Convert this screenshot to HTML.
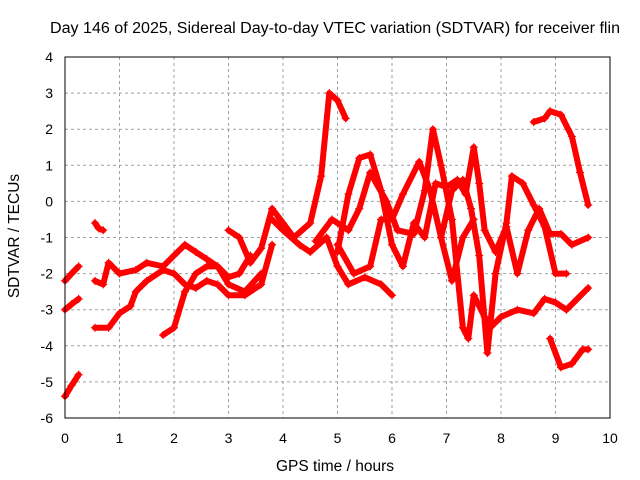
<!DOCTYPE html>
<html><head><meta charset="utf-8"><style>
body{margin:0;background:#fff}
svg{display:block;font-family:"Liberation Sans",sans-serif}
</style></head><body>
<svg id="c" width="640" height="480" xmlns="http://www.w3.org/2000/svg">
<text x="335" y="33" font-size="15.5" text-anchor="middle" textLength="570" lengthAdjust="spacingAndGlyphs">Day 146 of 2025, Sidereal Day-to-day VTEC variation (SDTVAR) for receiver flin</text>
<text x="335" y="471" font-size="15.5" text-anchor="middle">GPS time / hours</text>
<text transform="translate(19,236) rotate(-90)" font-size="15.5" text-anchor="middle">SDTVAR / TECUs</text>
<g id="grid"></g><g id="data"></g>
<rect x="65" y="57" width="545" height="361" fill="none" stroke="#000"/>
</svg>
<script>
const xTicks=[0,1,2,3,4,5,6,7,8,9,10];
const yTicks=[4,3,2,1,0,-1,-2,-3,-4,-5,-6];
const seriesA=[[0,-5.4],[0.12,-5.1],[0.25,-4.8]];
const seriesB=[[0,-3],[0.12,-2.85],[0.25,-2.7]];
const seriesC=[[0,-2.2],[0.12,-2.0],[0.25,-1.8]];
const seriesD=[[0.55,-0.6],[0.62,-0.75],[0.7,-0.8]];
const seriesE=[[0.55,-3.5],[0.8,-3.5],[1.0,-3.1],[1.2,-2.9],[1.3,-2.5],[1.5,-2.2],[1.8,-1.9],[2.0,-2.0],[2.2,-2.3],[2.4,-2.4],[2.6,-2.2],[2.8,-2.3],[3.0,-2.6],[3.3,-2.6],[3.6,-2.3],[3.8,-1.2]];
const seriesF=[[0.55,-2.2],[0.7,-2.3],[0.8,-1.7],[1.0,-2.0],[1.3,-1.9],[1.5,-1.7],[1.8,-1.8],[2.0,-1.5],[2.2,-1.2],[2.4,-1.4],[2.6,-1.6],[2.8,-1.8],[3.0,-2.1],[3.2,-2.0],[3.4,-1.5]];
const seriesG=[[1.8,-3.7],[2.0,-3.5],[2.2,-2.5],[2.4,-2.0],[2.6,-1.8],[2.8,-1.8],[3.0,-2.3],[3.3,-2.5],[3.6,-2.0]];
const seriesH=[[3.0,-0.8],[3.2,-1.0],[3.4,-1.7],[3.6,-1.3],[3.8,-0.2],[4.0,-0.6],[4.2,-1.0],[4.5,-0.6],[4.7,0.7],[4.85,3.0],[5.0,2.8],[5.15,2.3]];
const seriesI=[[3.8,-0.5],[4.0,-0.8],[4.3,-1.2],[4.5,-1.4],[4.8,-1.0],[5.0,-1.8],[5.2,-2.3],[5.5,-2.1],[5.8,-2.3],[6.0,-2.6]];
const seriesJ=[[4.6,-1.1],[4.9,-0.5],[5.2,-0.8],[5.4,-0.2],[5.6,0.8],[5.9,0.0],[6.1,-0.8],[6.4,-0.9],[6.6,0.3],[6.75,2.0],[6.9,1.0],[7.1,-0.5],[7.3,-3.5],[7.4,-3.8],[7.5,-2.6],[7.7,-3.2],[7.8,-3.5],[8.0,-3.2],[8.3,-3.0],[8.6,-3.1],[8.8,-2.7],[9.0,-2.8],[9.2,-3.0],[9.4,-2.7],[9.6,-2.4]];
const seriesK=[[5.0,-1.4],[5.2,0.2],[5.4,1.2],[5.6,1.3],[5.8,0.3],[6.0,-1.2],[6.2,-1.8],[6.4,-0.6],[6.6,-1.0],[6.8,0.5],[7.0,0.4],[7.2,0.6],[7.35,0.2],[7.5,1.5],[7.6,0.5],[7.7,-0.8],[7.9,-1.4],[8.1,-0.7],[8.3,-2.0],[8.5,-0.8],[8.7,-0.2],[8.9,-0.9],[9.1,-0.9],[9.3,-1.2],[9.6,-1.0]];
const seriesL=[[5.0,-1.2],[5.3,-2.0],[5.6,-1.8],[5.8,-0.5],[6.0,-0.5],[6.2,0.2],[6.5,1.1],[6.7,0.3],[6.9,-1.0],[7.1,0.3],[7.3,0.6],[7.45,-0.2],[7.6,-1.5],[7.75,-4.2],[7.9,-2.0],[8.1,-0.6],[8.2,0.7],[8.4,0.5],[8.6,-0.1],[8.8,-0.7],[9.0,-2.0],[9.2,-2.0]];
const seriesM=[[8.6,2.2],[8.8,2.3],[8.9,2.5],[9.1,2.4],[9.3,1.8],[9.45,0.8],[9.6,-0.1]];
const seriesN=[[8.9,-3.8],[9.1,-4.6],[9.3,-4.5],[9.5,-4.1],[9.6,-4.1]];
const seriesO=[[6.9,-1.0],[7.1,-2.2],[7.3,-1.0],[7.5,-0.5]];
const allSeries=[seriesA,seriesB,seriesC,seriesD,seriesE,seriesF,seriesG,seriesH,seriesI,seriesJ,seriesK,seriesL,seriesM,seriesN,seriesO];
const NS="http://www.w3.org/2000/svg";
const sx=h=>65+h*54.5, sy=v=>57+(4-v)*36.1;
const g=document.getElementById('grid'), d=document.getElementById('data');
function mk(t,a,p){const e=document.createElementNS(NS,t);for(const k in a)e.setAttribute(k,a[k]);p.appendChild(e);return e;}
xTicks.forEach(t=>{const x=sx(t);
 if(t>0&&t<10){const l=mk('line',{x1:x,x2:x,y1:57,y2:418,stroke:'#a0a0a0','stroke-dasharray':'3,3'},g);}
 const tx=mk('text',{x:x,y:443,'font-size':14,'text-anchor':'middle'},g);tx.textContent=t;
 });
yTicks.forEach(t=>{const y=sy(t);
 if(t<4&&t>-6){const l=mk('line',{x1:65,x2:610,y1:y,y2:y,stroke:'#a0a0a0','stroke-dasharray':'3,3'},g);}
 const tx=mk('text',{x:53,y:y+5,'font-size':14,'text-anchor':'end'},g);tx.textContent=t;
 });
allSeries.forEach(s=>{
 const pl=mk('polyline',{points:s.map(p=>sx(p[0])+','+sy(p[1])).join(' '),fill:'none',stroke:'#f00','stroke-width':6,'stroke-linejoin':'round','stroke-linecap':'round'},d);
 
 
 s.forEach(p=>{const x=sx(p[0]),y=sy(p[1]);
  const m=mk('path',{d:`M${x-4},${y}H${x+4}M${x},${y-4}V${y+4}`,stroke:'#f00','stroke-width':1.2},d);
  
  });
});
</script>
</body></html>
